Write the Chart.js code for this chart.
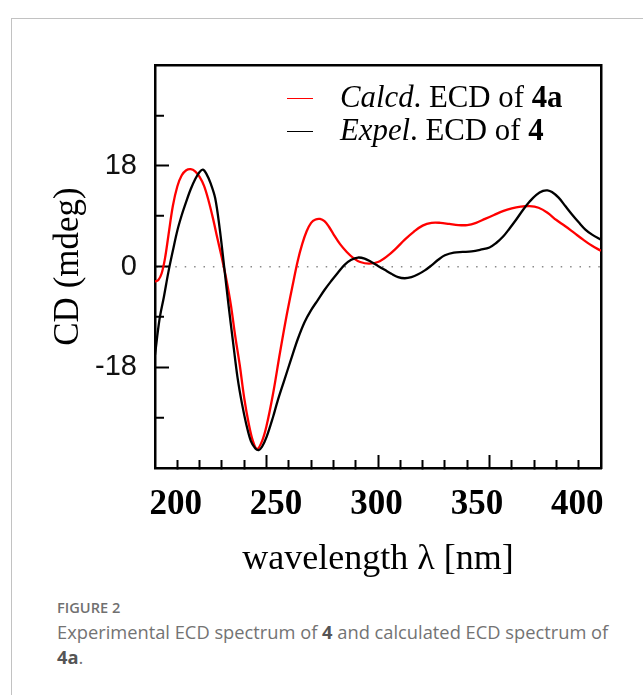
<!DOCTYPE html>
<html>
<head>
<meta charset="utf-8">
<script src="https://cdn.jsdelivr.net/npm/chart.js@4.4.1/dist/chart.umd.min.js"></script>
<style>
html,body{margin:0;padding:0;background:#fff;}
body{width:643px;height:695px;overflow:hidden;position:relative;}
#card{position:absolute;left:11px;top:18px;width:720px;height:760px;border-top:1px solid #c2c2c2;border-left:1px solid #c2c2c2;}
#chart{position:absolute;left:0;top:0;}
#legend{position:absolute;left:286px;top:81px;font-family:"Liberation Serif",serif;font-size:30.8px;line-height:33px;color:#000;}
.row{position:relative;height:33px;width:320px;white-space:nowrap;}
.swatch{position:absolute;left:1px;width:26px;height:1.6px;top:16.8px;}
.txt{position:absolute;left:54px;top:0;}
#figlabel{position:absolute;left:57px;top:597px;font-family:"Open Sans",sans-serif;font-size:14.6px;font-weight:600;color:#707070;}
#caption{position:absolute;left:57px;top:620px;width:600px;font-family:"Open Sans",sans-serif;font-size:18.3px;line-height:24.5px;color:#737373;white-space:nowrap;}
#caption b{color:#555;font-weight:700;}
</style>
</head>
<body>
<div id="card"></div>
<canvas id="chart" width="643" height="595"></canvas>
<div id="legend">
  <div class="row"><span class="swatch" style="background:#ff0000"></span><span class="txt"><i>Calcd</i>. ECD of <b>4a</b></span></div>
  <div class="row"><span class="swatch" style="background:#000"></span><span class="txt"><i>Expel</i>. ECD of <b>4</b></span></div>
</div>
<div id="figlabel">FIGURE 2</div>
<div id="caption">Experimental ECD spectrum of <b>4</b> and calculated ECD spectrum of<br><b>4a</b>.</div>
<script>
// Calculated ECD of 4a (wavelength nm, CD mdeg)
const calcdWavelength = [200,201.5,203,204.5,206,208,210,212,214,216,218,220,222,224,226,228,230,232,234,236,238,240,242,244,245.8,248,250,253,256,259,262,264,266,268,270,272,274,276,278,280,283,286,289,292,296,300,304,308,312,316,320,324,328,332,336,340,344,348,352,356,360,364,368,372,376,380,384,388,392,396,400];
const calcdCD = [-2.7,-2.4,-1.2,1.5,5.5,10.8,14.3,16.3,17.2,17.4,17.0,16.0,14.4,11.8,8.6,5.0,1.5,-2.3,-6.8,-12.5,-17.6,-23.5,-28.0,-31.3,-32.6,-31.2,-28.5,-22.6,-15.5,-8.8,-2.8,1.0,4.0,6.3,7.8,8.4,8.5,8.1,7.1,5.8,4.0,2.6,1.5,0.8,0.5,0.8,1.8,3.2,4.8,6.2,7.3,7.8,7.8,7.6,7.4,7.4,7.8,8.5,9.2,9.9,10.4,10.7,10.8,10.5,9.6,8.3,7.2,6.0,4.8,3.7,2.8];

// Experimental ECD of 4
const expelWavelength = [200,202,204,206,208,210,212,214,216,218,220,221.5,223,225,227,229,231,233,235,237,239,241,243,245,246.5,248,250,253,255,258,261,264,267,270,273,276,279,282,285,288,291,294,297,300,303,306,309,312,315,318,321,324,327,330,334,338,342,346,350,353,356,359,362,365,368,371,374,376,378,381,384,387,390,393,396,400];
const expelCD = [-15.8,-9.5,-5.4,-1.0,2.8,6.4,9.2,11.6,13.8,15.6,16.9,17.3,16.6,14.8,12.2,6.8,0.0,-7.0,-13.5,-19.8,-24.5,-28.3,-31.2,-32.5,-32.8,-32.2,-30.5,-26.8,-24.0,-20.3,-16.6,-13.0,-10.0,-7.8,-6.0,-4.2,-2.6,-1.1,0.3,1.2,1.6,1.4,0.8,0.1,-0.6,-1.3,-1.9,-2.1,-1.9,-1.4,-0.7,0.2,1.2,2.0,2.5,2.6,2.7,3.0,3.4,4.2,5.3,6.8,8.4,10.1,11.6,12.8,13.5,13.6,13.3,12.3,10.8,9.3,7.9,6.6,5.7,4.8];

// Axis ticks
const xTickLabels = [200,250,300,350,400];
const xMinorTicks = [210,220,230,240,260,270,280,290,310,320,330,340,360,370,380,390];
const xMajorTicks = [250,300,350];
const yTickLabels = [-18,0,18];
const yMinorTicks = [-27,-9,0,9,27];

const toPoints = (xs, ys) => xs.map((x, i) => ({x: x, y: ys[i]}));
const setTicks = arr => scale => { scale.ticks = arr.map(v => ({value: v})); };

new Chart(document.getElementById('chart'), {
  type: 'line',
  data: {
    datasets: [
      {label: 'Expel. ECD of 4', data: toPoints(expelWavelength, expelCD), borderColor: '#000000', borderWidth: 2.3, pointRadius: 0, tension: 0.35, xAxisID: 'x2', yAxisID: 'y'},
      {label: 'Calcd. ECD of 4a', data: toPoints(calcdWavelength, calcdCD), borderColor: '#ff0000', borderWidth: 2.3, pointRadius: 0, tension: 0.35, xAxisID: 'x2', yAxisID: 'y'}
    ]
  },
  options: {
    responsive: false,
    animation: false,
    layout: {padding: {left: 48, top: 65, right: 42, bottom: 14}},
    plugins: {legend: {display: false}, tooltip: {enabled: false}},
    scales: {
      x2: {
        type: 'linear', position: 'bottom', min: 200, max: 400, weight: 0,
        afterBuildTicks: setTicks(xMinorTicks),
        afterFit: s => { s.height = 0; },
        ticks: {display: false},
        grid: {display: true, drawOnChartArea: false, drawTicks: true, tickLength: -8, tickWidth: 2, tickColor: '#000'},
        border: {display: true, color: '#000', width: 2.5}
      },
      x4: {
        type: 'linear', position: 'bottom', min: 200, max: 400, weight: 1,
        afterBuildTicks: setTicks(xMajorTicks),
        afterFit: s => { s.height = 0; },
        ticks: {display: false},
        grid: {display: true, drawOnChartArea: false, drawTicks: true, tickLength: -13, tickWidth: 2, tickColor: '#000'},
        border: {display: false}
      },
      x: {
        type: 'linear', position: 'bottom', min: 189.7, max: 411.8, weight: 2,
        afterBuildTicks: setTicks(xTickLabels),
        afterFit: s => { s.height = 113; },
        grid: {display: false, drawTicks: false, tickLength: 0},
        border: {display: false},
        ticks: {font: {family: 'Liberation Serif', size: 35, weight: 'bold'}, color: '#000', padding: 16, maxRotation: 0, autoSkip: false},
        title: {display: true, text: 'wavelength λ [nm]', font: {family: 'Liberation Serif', size: 36}, color: '#000', padding: 0}
      },
      xTop: {
        type: 'linear', position: 'top', min: 200, max: 400,
        afterFit: s => { s.height = 0; },
        ticks: {display: false},
        grid: {display: false},
        border: {display: true, color: '#000', width: 2.5}
      },
      y2: {
        type: 'linear', position: 'left', min: -36, max: 36, weight: 0,
        afterBuildTicks: setTicks(yMinorTicks),
        afterFit: s => { s.width = 0; },
        ticks: {display: false},
        grid: {
          display: true, drawOnChartArea: true, drawTicks: true, tickLength: -9, tickWidth: 2, lineWidth: 1.5,
          color: c => (c.tick && c.tick.value === 0) ? '#8a8a8a' : 'rgba(0,0,0,0)',
          tickColor: c => (c.tick && c.tick.value === 0) ? 'rgba(0,0,0,0)' : '#000'
        },
        border: {display: true, color: '#000', width: 2.5, dash: [1.5, 7.9]}
      },
      y: {
        type: 'linear', position: 'left', min: -36, max: 36, weight: 2,
        afterBuildTicks: setTicks(yTickLabels),
        afterFit: s => { s.width = 107; },
        grid: {display: true, drawOnChartArea: false, drawTicks: true, tickLength: -14, tickWidth: 2, tickColor: '#000'},
        border: {display: false},
        ticks: {font: {family: 'Liberation Sans', size: 29}, color: '#111', padding: 32, callback: v => String(v)},
        title: {display: true, text: 'CD (mdeg)', font: {family: 'Liberation Serif', size: 35}, color: '#000', padding: 0}
      },
      yRight: {
        type: 'linear', position: 'right', min: -36, max: 36,
        afterFit: s => { s.width = 0; },
        ticks: {display: false},
        grid: {display: false},
        border: {display: true, color: '#000', width: 2.5}
      }
    }
  }
});
</script>
</body>
</html>
